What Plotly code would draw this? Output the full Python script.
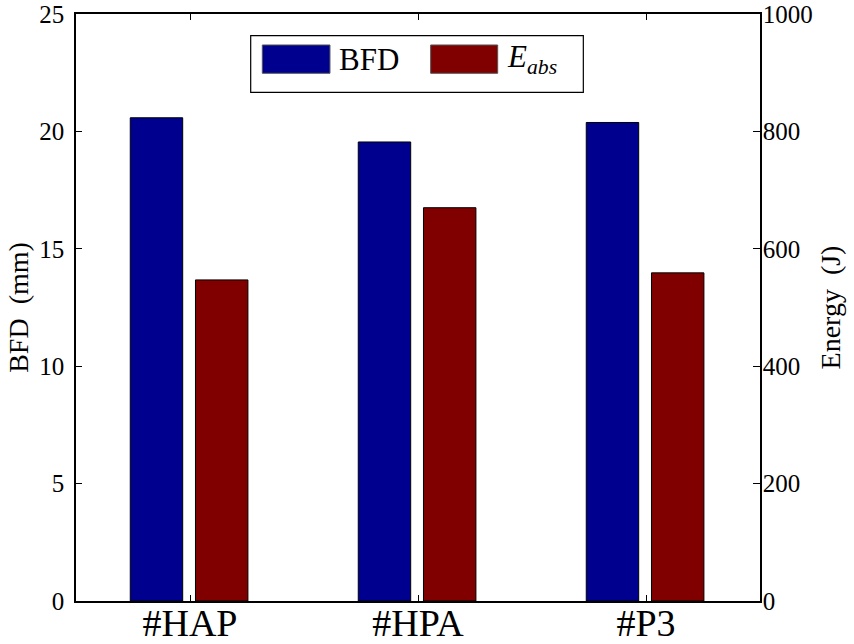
import plotly.graph_objects as go

# Specimen groups and measured results
categories = ["#HAP", "#HPA", "#P3"]
bfd_mm = [20.58, 19.55, 20.38]          # back-face deformation, left axis
energy_j = [547, 670, 559]              # absorbed energy, right axis

bfd_ticks = [0, 5, 10, 15, 20, 25]
energy_ticks = [0, 200, 400, 600, 800, 1000]

BLUE = "#00008f"
RED = "#800000"
FONT = "Liberation Serif"

fig = go.Figure()
fig.add_trace(go.Bar(
    x=categories, y=bfd_mm, name="BFD",
    marker=dict(color=BLUE, line=dict(color="black", width=1)),
    width=0.23, offset=-0.262, yaxis="y", showlegend=False,
))
fig.add_trace(go.Bar(
    x=categories, y=energy_j, name="E_abs",
    marker=dict(color=RED, line=dict(color="black", width=1)),
    width=0.23, offset=0.024, yaxis="y2", showlegend=False,
))

fig.update_layout(
    width=854, height=644,
    margin=dict(l=76, r=94, t=14, b=43, autoexpand=False),
    paper_bgcolor="white", plot_bgcolor="white",
    font=dict(family=FONT, size=24, color="black"),
    barmode="overlay",
    xaxis=dict(
        range=[-0.5, 2.5], showline=True, linecolor="black", linewidth=1.5,
        mirror="ticks", ticks="inside", ticklen=6, tickcolor="black",
        tickfont=dict(family=FONT, size=38), showgrid=False, zeroline=False,
        automargin=False, ticklabelstandoff=-12,
    ),
    yaxis=dict(
        range=[0, 25], tickvals=bfd_ticks, showline=True, linecolor="black",
        linewidth=1.5, ticks="inside", ticklen=6, tickcolor="black",
        tickfont=dict(family=FONT, size=25),
        showgrid=False, zeroline=False, ticklabelstandoff=5, automargin=False,
        title=dict(text="BFD  (mm)", font=dict(family=FONT, size=28), standoff=2),
    ),
    yaxis2=dict(
        range=[0, 1000], tickvals=energy_ticks, overlaying="y", side="right",
        showline=True, linecolor="black", linewidth=1.5, ticks="inside",
        ticklen=7, tickcolor="black", tickfont=dict(family=FONT, size=25),
        showgrid=False, zeroline=False, automargin=False, ticklabelstandoff=-4,
        title=dict(text="Energy  (J)", font=dict(family=FONT, size=28), standoff=9),
    ),
)

# Legend drawn as a framed box with large swatches
shapes = [
    dict(type="rect", xref="paper", yref="paper", x0=0.2554, x1=0.7417,
         y0=0.8666, y1=0.963, line=dict(color="black", width=1.2),
         fillcolor="white", layer="above"),
    dict(type="rect", xref="paper", yref="paper", x0=0.2724, x1=0.3713,
         y0=0.899, y1=0.9472, line=dict(color="#555", width=1),
         fillcolor=BLUE, layer="above"),
    dict(type="rect", xref="paper", yref="paper", x0=0.5185, x1=0.6165,
         y0=0.899, y1=0.9472, line=dict(color="#555", width=1),
         fillcolor=RED, layer="above"),
]
annotations = [
    dict(xref="paper", yref="paper", x=0.381, y=0.923, xanchor="left",
         yanchor="middle", showarrow=False, text="BFD",
         font=dict(family=FONT, size=31)),
    dict(xref="paper", yref="paper", x=0.627, y=0.923, xanchor="left",
         yanchor="middle", showarrow=False,
         text="<i>E</i><sub><i>abs</i></sub>",
         font=dict(family=FONT, size=31)),
]
fig.update_layout(shapes=shapes, annotations=annotations)

fig.write_html("out.html")
